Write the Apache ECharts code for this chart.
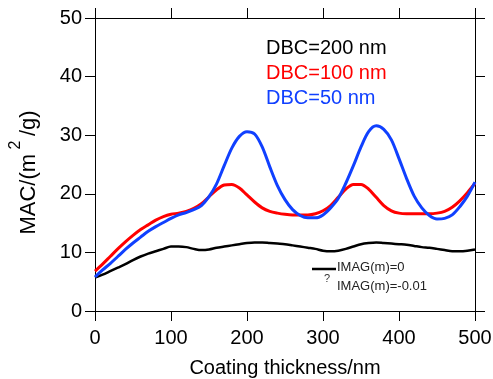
<!DOCTYPE html>
<html>
<head>
<meta charset="utf-8">
<script src="https://cdn.jsdelivr.net/npm/echarts@6/dist/echarts.min.js"></script>
<style>
html,body{margin:0;padding:0;background:#fff;}
#c{width:493px;height:379px;}
</style>
</head>
<body>
<div id="c"></div>
<script>
var thickness = [0,10,20,30,40,50,60,70,80,90,100,110,120,130,140,150,160,170,180,190,200,210,220,230,240,250,260,270,280,290,300,310,320,330,340,350,360,370,380,390,400,410,420,430,440,450,460,470,480,490,500];
var dbc200 = [5.7,6.2,6.8,7.4,8.0,8.7,9.3,9.8,10.2,10.6,11.0,11.0,10.9,10.6,10.4,10.5,10.8,11.0,11.2,11.4,11.6,11.7,11.7,11.6,11.5,11.4,11.2,11.0,10.8,10.6,10.3,10.2,10.3,10.6,11.0,11.4,11.6,11.7,11.6,11.5,11.4,11.3,11.1,10.9,10.8,10.6,10.4,10.2,10.2,10.3,10.5];
var dbc100 = [6.8,8.0,9.3,10.6,11.8,12.9,13.9,14.7,15.5,16.1,16.5,16.7,17.0,17.5,18.3,19.5,20.7,21.5,21.6,21.0,19.8,18.6,17.6,17.0,16.7,16.5,16.4,16.4,16.4,16.6,17.1,18.0,19.4,20.8,21.6,21.6,20.8,19.4,18.0,17.1,16.7,16.6,16.6,16.6,16.6,16.7,17.0,17.7,18.8,20.2,21.8];
var dbc50 = [5.8,7.0,8.1,9.3,10.5,11.6,12.6,13.6,14.4,15.1,15.8,16.4,16.8,17.3,18.0,19.5,21.7,24.8,27.8,29.8,30.6,30.2,28.0,24.6,21.4,19.0,17.3,16.3,15.9,15.9,16.4,17.6,19.2,21.8,24.8,28.0,30.6,31.6,31.0,29.2,26.0,22.6,19.6,17.6,16.3,15.7,15.8,16.4,17.8,19.6,22.0];
var seriesNames = ['DBC=200 nm','DBC=100 nm','DBC=50 nm'];
var seriesColors = ['#000000','#ff0000','#1040ff'];
var xTicks = {min:0, max:500, interval:100};
var yTicks = {min:0, max:50, interval:10};
var xTitle = 'Coating thickness/nm';
var imagLabels = ['IMAG(m)=0','IMAG(m)=-0.01'];

function pairs(ys){ return thickness.map(function(x,i){ return [x, ys[i]]; }); }

var font = 'Liberation Sans, Arial, sans-serif';
var axisLine = {show:true, onZero:false, lineStyle:{color:'#000', width:1}};
var tick = {show:true, inside:false, length:10, lineStyle:{color:'#000', width:1}};

var chart = echarts.init(document.getElementById('c'), null, {renderer:'canvas'});
chart.setOption({
  animation:false,
  backgroundColor:'#fff',
  grid:{left:95, right:18, top:18, bottom:68, containLabel:false, outerBoundsMode:'none'},
  xAxis:[
    {type:'value', position:'bottom', min:xTicks.min, max:xTicks.max, interval:xTicks.interval,
     axisLine:axisLine, axisTick:tick, splitLine:{show:false},
     axisLabel:{color:'#000', fontSize:20, fontFamily:font, margin:17},
     name:xTitle, nameLocation:'middle', nameGap:47,
     nameTextStyle:{color:'#000', fontSize:20, fontFamily:font}},
    {type:'value', position:'top', min:xTicks.min, max:xTicks.max, interval:xTicks.interval,
     axisLine:axisLine, axisTick:tick, splitLine:{show:false}, axisLabel:{show:false}}
  ],
  yAxis:[
    {type:'value', position:'left', min:yTicks.min, max:yTicks.max, interval:yTicks.interval,
     axisLine:axisLine, axisTick:tick, splitLine:{show:false},
     axisLabel:{color:'#000', fontSize:20, fontFamily:font, margin:13},
     name:'{a|MAC/(m}{s| 2 }{a|/g)}', nameLocation:'middle', nameGap:55, nameRotate:90,
     nameTextStyle:{color:'#000', fontSize:22, fontFamily:font, padding:[0,16,0,0],
       rich:{a:{fontSize:22, fontFamily:font, color:'#000', lineHeight:32, verticalAlign:'bottom'},
             s:{fontSize:16, fontFamily:font, color:'#000', lineHeight:32, verticalAlign:'top'}}}},
    {type:'value', position:'right', min:yTicks.min, max:yTicks.max, interval:yTicks.interval,
     axisLine:axisLine, axisTick:tick, splitLine:{show:false}, axisLabel:{show:false}}
  ],
  legend:{
    show:true, orient:'vertical', left:256, top:33, icon:'none', itemWidth:0, itemHeight:20, itemGap:5,
    selectedMode:false,
    textStyle:{fontSize:20, fontFamily:font},
    data:seriesNames.map(function(n,i){ return {name:n, textStyle:{color:seriesColors[i], fontSize:20, fontFamily:font}}; })
  },
  graphic:[
    {type:'line', shape:{x1:312, y1:269, x2:336, y2:269}, style:{stroke:'#000', lineWidth:2.5}},
    {type:'text', x:324, y:273, style:{text:'?', fontSize:11, fontFamily:font, fill:'#333'}},
    {type:'text', x:337, y:261, style:{text:imagLabels[0], fontSize:13, fontFamily:font, fill:'#222'}},
    {type:'text', x:337, y:280, style:{text:imagLabels[1], fontSize:13, fontFamily:font, fill:'#222'}}
  ],
  series:[
    {name:seriesNames[0], type:'line', data:pairs(dbc200), smooth:0.3, showSymbol:false, lineStyle:{color:seriesColors[0], width:2.5}, itemStyle:{color:seriesColors[0]}, z:3},
    {name:seriesNames[1], type:'line', data:pairs(dbc100), smooth:0.3, showSymbol:false, lineStyle:{color:seriesColors[1], width:3}, itemStyle:{color:seriesColors[1]}, z:4},
    {name:seriesNames[2], type:'line', data:pairs(dbc50), smooth:0.3, showSymbol:false, lineStyle:{color:seriesColors[2], width:3}, itemStyle:{color:seriesColors[2]}, z:5}
  ]
});
</script>
</body>
</html>
